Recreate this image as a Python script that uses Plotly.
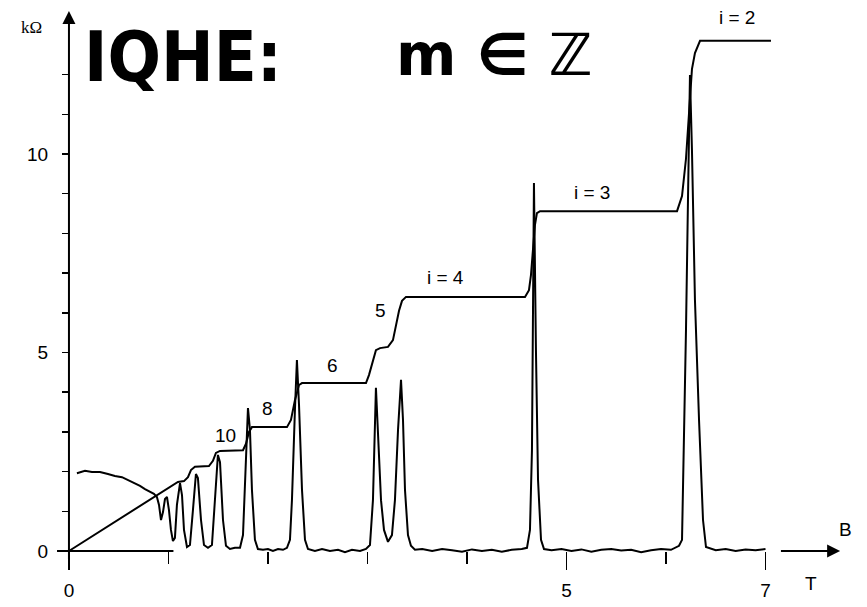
import plotly.graph_objects as go

# Hall resistance (steps), B in tesla, R in kOhm
B_hall = [0.0, 0.814, 1.035, 1.095, 1.156, 1.196, 1.226, 1.266, 1.407, 1.447, 1.477, 1.518,
          1.749, 1.779, 1.809, 1.839, 2.191, 2.231, 2.271, 2.312, 2.342, 2.985, 3.015, 3.055,
          3.085, 3.126, 3.206, 3.256, 3.286, 3.317, 3.347, 3.387, 4.583, 4.623, 4.643, 4.663,
          4.683, 4.703, 4.734, 6.111, 6.161, 6.201, 6.231, 6.261, 6.291, 6.342, 7.055]
R_hall = [0.0, 1.285, 1.64, 1.74, 1.76, 1.86, 2.04, 2.12, 2.14, 2.27, 2.47, 2.52,
          2.54, 2.70, 3.00, 3.12, 3.12, 3.30, 3.80, 4.18, 4.23, 4.23, 4.43, 4.81,
          5.06, 5.11, 5.14, 5.31, 5.67, 6.05, 6.30, 6.40, 6.40, 6.57, 6.95, 7.58,
          8.21, 8.51, 8.56, 8.56, 8.94, 9.88, 11.13, 12.14, 12.54, 12.85, 12.85]

# Longitudinal resistance (peaks)
B_xx = [0.080, 0.161, 0.231, 0.312, 0.392, 0.462, 0.533, 0.593, 0.653, 0.714, 0.764, 0.814,
        0.854, 0.884, 0.905, 0.925, 0.945, 0.965, 0.985, 1.005, 1.025, 1.045, 1.065, 1.085,
        1.116, 1.136, 1.156, 1.186, 1.216, 1.246, 1.276, 1.296, 1.327, 1.357, 1.397, 1.437,
        1.467, 1.497, 1.518, 1.548, 1.578, 1.618, 1.668, 1.719, 1.749, 1.769, 1.789, 1.799,
        1.819, 1.839, 1.869, 1.899, 1.950, 2.000, 2.050, 2.101, 2.151, 2.191, 2.221, 2.241,
        2.271, 2.291, 2.312, 2.342, 2.372, 2.402, 2.472, 2.543, 2.623, 2.704, 2.774, 2.844,
        2.925, 2.985, 3.025, 3.055, 3.085, 3.106, 3.136, 3.166, 3.206, 3.246, 3.276, 3.307,
        3.337, 3.357, 3.377, 3.407, 3.437, 3.477, 3.55, 3.65, 3.75, 3.85, 3.95, 4.05,
        4.15, 4.25, 4.35, 4.45, 4.55, 4.603, 4.633, 4.653, 4.673, 4.693, 4.714, 4.744,
        4.774, 4.85, 4.95, 5.05, 5.15, 5.25, 5.35, 5.45, 5.55, 5.65, 5.75, 5.85,
        5.95, 6.05, 6.131, 6.161, 6.181, 6.201, 6.221, 6.241, 6.261, 6.291, 6.332, 6.372,
        6.402, 6.5, 6.6, 6.7, 6.8, 6.9, 7.0]
R_xx = [1.96, 2.02, 1.99, 1.99, 1.94, 1.89, 1.86, 1.79, 1.71, 1.64, 1.56, 1.49,
        1.44, 1.36, 1.16, 0.78, 0.98, 1.31, 1.36, 1.03, 0.53, 0.25, 0.33, 1.16,
        1.71, 1.41, 0.53, 0.10, 0.15, 1.03, 1.94, 1.84, 0.78, 0.15, 0.08, 0.15,
        1.28, 2.42, 2.24, 0.78, 0.13, 0.05, 0.08, 0.08, 0.40, 1.79, 3.05, 3.60,
        3.05, 1.54, 0.28, 0.05, 0.03, 0.05, 0.00, 0.05, 0.03, 0.08, 0.28, 1.28,
        3.55, 4.81, 3.68, 1.54, 0.28, 0.05, 0.00, 0.05, 0.00, 0.03, -0.03, 0.03,
        0.00, 0.05, 0.15, 1.28, 4.11, 3.05, 1.28, 0.53, 0.23, 0.40, 1.28, 3.05,
        4.31, 3.30, 1.54, 0.40, 0.13, 0.03, 0.05, 0.00, 0.05, 0.02, -0.02, 0.04,
        0.00, 0.03, -0.02, 0.03, 0.05, 0.08, 0.53, 2.54, 9.27, 5.06, 1.79, 0.28,
        0.05, 0.02, 0.05, 0.00, 0.04, -0.02, 0.03, 0.05, 0.01, 0.03, -0.03, 0.02,
        0.05, 0.03, 0.13, 0.28, 2.54, 5.57, 8.84, 11.99, 10.10, 6.32, 3.30, 0.78,
        0.10, 0.02, 0.05, 0.00, 0.04, 0.02, 0.05]

x_tick_vals = [0, 5, 7]
x_tick_text = ["0", "5", "7"]
x_minor_vals = [1, 2, 3, 4, 6]
y_tick_vals = list(range(0, 13))
y_tick_text = ["0", "", "", "", "", "5", "", "", "", "", "10", "", ""]

plateau_text = ["10", "8", "6", "5", "i = 4", "i = 3", "i = 2"]
plateau_B = [1.578, 2.00, 2.653, 3.126, 3.789, 5.256, 6.714]
plateau_R = [2.90, 3.58, 4.66, 6.07, 6.90, 9.04, 13.45]

XMIN, XMAX = -0.693, 8.0
YMIN, YMAX = -1.411, 13.879

fig = go.Figure()
fig.add_trace(go.Scatter(x=B_xx, y=R_xx, mode="lines",
                         line=dict(color="black", width=2), hoverinfo="skip"))
fig.add_trace(go.Scatter(x=B_hall, y=R_hall, mode="lines",
                         line=dict(color="black", width=2), hoverinfo="skip"))

tickfont = dict(family="Liberation Sans, Arial, sans-serif", size=19, color="black")

fig.update_layout(
    width=867, height=607,
    margin=dict(l=0, r=2, t=0, b=0),
    paper_bgcolor="white", plot_bgcolor="white",
    showlegend=False,
    xaxis=dict(range=[XMIN, XMAX], anchor="free", position=(0 - YMIN) / (YMAX - YMIN),
               showline=False, showgrid=False, zeroline=False,
               tickmode="array", tickvals=x_tick_vals, ticktext=x_tick_text,
               ticks="outside", ticklen=18, tickwidth=1.5, tickcolor="black",
               ticklabelstandoff=4,
               minor=dict(tickvals=x_minor_vals, ticks="outside", ticklen=12,
                          tickwidth=1.5, tickcolor="black", showgrid=False),
               tickfont=tickfont, automargin=False),
    yaxis=dict(range=[YMIN, YMAX], anchor="free", position=(0 - XMIN) / (XMAX - XMIN),
               showline=False, showgrid=False, zeroline=False,
               tickmode="array", tickvals=y_tick_vals, ticktext=y_tick_text,
               ticks="outside", ticklen=7, tickwidth=1.5, tickcolor="black",
               ticklabelstandoff=10,
               tickfont=tickfont, automargin=False),
)

# short x-axis line near origin
fig.add_shape(type="line", xref="x", yref="y", x0=-0.12, x1=1.05, y0=0, y1=0,
              line=dict(color="black", width=2))

annotations = []
# y axis with arrow
annotations.append(dict(x=0, y=13.6, ax=0, ay=-0.25, xref="x", yref="y", axref="x", ayref="y",
                        text="", showarrow=True, arrowhead=2, arrowsize=1.3, arrowwidth=2,
                        arrowcolor="black"))
# B arrow on the right
annotations.append(dict(x=7.75, y=0, ax=7.14, ay=0, xref="x", yref="y", axref="x", ayref="y",
                        text="", showarrow=True, arrowhead=2, arrowsize=1.3, arrowwidth=2,
                        arrowcolor="black"))
annotations.append(dict(x=-0.372, y=13.19, xref="x", yref="y", text="kΩ", showarrow=False,
                        font=dict(family="Liberation Serif, serif", size=17, color="black")))
annotations.append(dict(x=7.80, y=0.53, xref="x", yref="y", text="B", showarrow=False,
                        font=tickfont))
annotations.append(dict(x=7.46, y=-0.81, xref="x", yref="y", text="T", showarrow=False,
                        font=tickfont))
for t, bx, ry in zip(plateau_text, plateau_B, plateau_R):
    annotations.append(dict(x=bx, y=ry, xref="x", yref="y", text=t, showarrow=False,
                            font=tickfont))
# handwritten-style heading
annotations.append(dict(x=1.145, y=12.44, xref="x", yref="y", text="<b>IQHE:</b>",
                        showarrow=False,
                        font=dict(family="Liberation Sans Narrow, DejaVu Sans Condensed, sans-serif",
                                  size=70, color="black")))
annotations.append(dict(x=4.28, y=12.49, xref="x", yref="y", text="<b>m ∈ ℤ</b>",
                        showarrow=False,
                        font=dict(family="Liberation Sans Narrow, DejaVu Sans, sans-serif",
                                  size=58, color="black")))
fig.update_layout(annotations=annotations)

fig.write_html("out.html",
               config={"displayModeBar": False, "staticPlot": True},
               post_script="document.body.style.margin='0';document.body.style.padding='0';")
